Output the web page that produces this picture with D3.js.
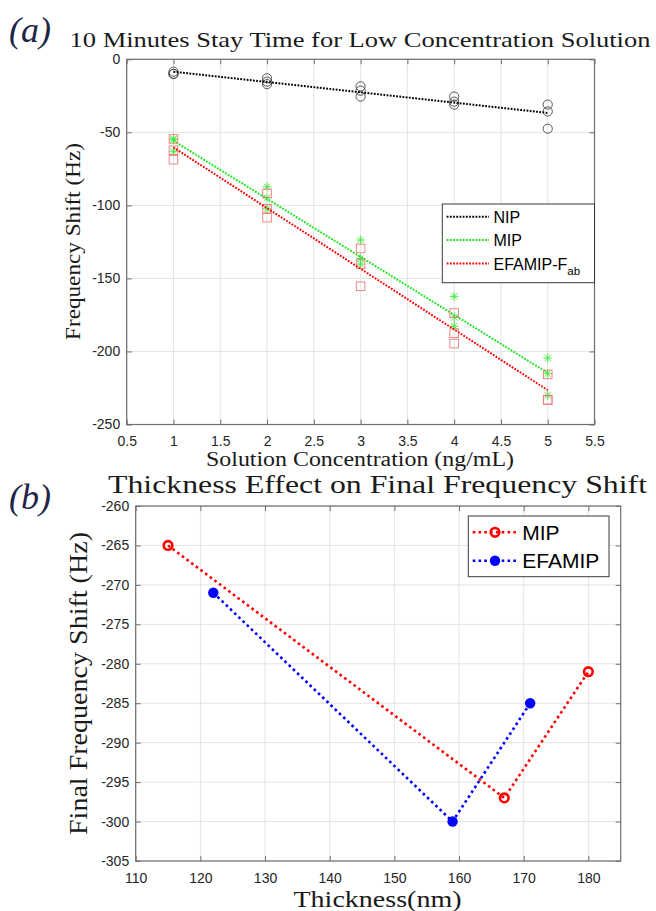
<!DOCTYPE html>
<html>
<head>
<meta charset="utf-8">
<script src="https://cdn.jsdelivr.net/npm/d3@7"></script>
<style>
  body { margin: 0; background: #fff; }
</style>
</head>
<body>
<svg id="fig" width="656" height="911"></svg>
<script>
// panel (a): three repeats per concentration
const concLevels = [1, 2, 3, 4, 5]
const nipShift = [[-8.5, -10, -10], [-13, -15.3, -17], [-18.5, -21.5, -25.5], [-25.5, -29, -31], [-31, -35.7, -47.5]]
const mipShift = [[-54.5, -55, -63], [-87.3, -94.8, -102.3], [-123.7, -136.4, -140.2], [-162.3, -176.6, -182.7], [-204.5, -215.2, -230]]
const efamipShift = [[-54.5, -62.3, -68.7], [-91.8, -102.3, -108.4], [-129.5, -140.2, -155.4], [-173.7, -187.5, -194.6], [-215.7, -233.4, -233]]
const concTicks = [0.5, 1, 1.5, 2, 2.5, 3, 3.5, 4, 4.5, 5, 5.5]
const shiftTicksA = [0, -50, -100, -150, -200, -250]

// panel (b)
const mipThickness = [115, 167, 180]
const mipFinalShift = [-265, -297, -281]
const efamipThickness = [122, 159, 171]
const efamipFinalShift = [-271, -300, -285]
const thicknessTicks = [110, 120, 130, 140, 150, 160, 170, 180]
const finalShiftTicks = [-260, -265, -270, -275, -280, -285, -290, -295, -300, -305]

const serif = '"Liberation Serif", "DejaVu Serif", serif'
const sans = '"Liberation Sans", Arial, sans-serif'
const axisColor = '#6e6e6e'
const gridColor = '#e4e4e4'

const svg = d3.select('#fig')

// MATLAB style '*' marker (plus + cross)
const starType = {
  draw (ctx, size) {
    const r = Math.sqrt(size) / 2
    const k = r * 0.72
    ctx.moveTo(-r, 0); ctx.lineTo(r, 0)
    ctx.moveTo(0, -r); ctx.lineTo(0, r)
    ctx.moveTo(-k, -k); ctx.lineTo(k, k)
    ctx.moveTo(-k, k); ctx.lineTo(k, -k)
  }
}

// least squares line through all repeats
function fitLine (levels, reps) {
  const pts = []
  levels.forEach((c, i) => reps[i].forEach(v => pts.push([c, v])))
  const mx = d3.mean(pts, p => p[0])
  const my = d3.mean(pts, p => p[1])
  const sxy = d3.sum(pts, p => (p[0] - mx) * (p[1] - my))
  const sxx = d3.sum(pts, p => (p[0] - mx) * (p[0] - mx))
  const slope = sxy / sxx
  const x0 = d3.min(levels), x1 = d3.max(levels)
  return [[x0, my + slope * (x0 - mx)], [x1, my + slope * (x1 - mx)]]
}

// grid + box + inward ticks on all four sides
function drawFrame (box, x, y, xTicks, yTicks, fontSize) {
  const g = svg.append('g')
  g.selectAll('.gx').data(xTicks).enter().append('line')
    .attr('x1', d => x(d)).attr('x2', d => x(d))
    .attr('y1', box.top).attr('y2', box.bottom)
    .attr('stroke', gridColor).attr('stroke-width', 1)
  g.selectAll('.gy').data(yTicks).enter().append('line')
    .attr('y1', d => y(d)).attr('y2', d => y(d))
    .attr('x1', box.left).attr('x2', box.right)
    .attr('stroke', gridColor).attr('stroke-width', 1)

  const axes = [
    [d3.axisBottom(x).tickValues(xTicks).tickFormat(String).tickPadding(12), `translate(0,${box.bottom})`],
    [d3.axisTop(x).tickValues(xTicks).tickFormat(''), `translate(0,${box.top})`],
    [d3.axisLeft(y).tickValues(yTicks).tickFormat(String).tickPadding(6.5), `translate(${box.left},0)`],
    [d3.axisRight(y).tickValues(yTicks).tickFormat(''), `translate(${box.right},0)`]
  ]
  axes.forEach(([a, tr]) => {
    const ag = g.append('g').attr('transform', tr)
      .call(a.tickSizeInner(-5).tickSizeOuter(0))
    ag.select('.domain').remove()
    ag.selectAll('line').attr('stroke', axisColor)
    ag.selectAll('text')
      .attr('fill', '#262626')
      .style('font-family', sans)
      .style('font-size', fontSize + 'px')
  })

  g.append('rect')
    .attr('x', box.left).attr('y', box.top)
    .attr('width', box.right - box.left).attr('height', box.bottom - box.top)
    .attr('fill', 'none').attr('stroke', axisColor).attr('stroke-width', 1.2)
}

function serifText (txt, x, y, size, len, rotate) {
  const t = svg.append('text')
    .attr('text-anchor', 'middle')
    .attr('font-family', serif)
    .attr('font-size', size)
    .attr('fill', '#1a1a1a')
    .attr('textLength', len)
    .attr('lengthAdjust', 'spacingAndGlyphs')
    .text(txt)
  if (rotate) t.attr('transform', `translate(${x},${y}) rotate(-90)`)
  else t.attr('x', x).attr('y', y)
}

// ---------------- panel (a) ----------------
const boxA = { left: 126.7, right: 594.5, top: 59.3, bottom: 424.5 }
const xA = d3.scaleLinear().domain([0.5, 5.5]).range([boxA.left, boxA.right])
const yA = d3.scaleLinear().domain([-250, 0]).range([boxA.bottom, boxA.top])

drawFrame(boxA, xA, yA, concTicks, shiftTicksA, 14)

const seriesA = [
  { name: 'NIP', reps: nipShift, color: '#000000', marker: 'circle' },
  { name: 'MIP', reps: mipShift, color: '#19e619', marker: 'star' },
  { name: 'EFAMIP-F', sub: 'ab', reps: efamipShift, color: '#ff0000', marker: 'square' }
]

const lineA = d3.line().x(d => xA(d[0])).y(d => yA(d[1]))

seriesA.forEach(s => {
  const pts = []
  concLevels.forEach((c, i) => s.reps[i].forEach(v => pts.push([c, v])))
  const mg = svg.append('g')
  if (s.marker === 'circle') {
    mg.selectAll('circle').data(pts).enter().append('circle')
      .attr('cx', d => xA(d[0])).attr('cy', d => yA(d[1])).attr('r', 4.6)
      .attr('fill', 'none').attr('stroke', '#444').attr('stroke-width', 0.9)
  } else if (s.marker === 'square') {
    mg.selectAll('rect').data(pts).enter().append('rect')
      .attr('x', d => xA(d[0]) - 4.3).attr('y', d => yA(d[1]) - 4.3)
      .attr('width', 8.6).attr('height', 8.6)
      .attr('fill', 'none').attr('stroke', '#f07a7a').attr('stroke-width', 0.9)
  } else {
    mg.selectAll('path').data(pts).enter().append('path')
      .attr('transform', d => `translate(${xA(d[0])},${yA(d[1])})`)
      .attr('d', d3.symbol().type(starType).size(81))
      .attr('fill', 'none').attr('stroke', '#3ee83e').attr('stroke-width', 0.9)
  }
  svg.append('path')
    .datum(fitLine(concLevels, s.reps))
    .attr('d', lineA)
    .attr('fill', 'none')
    .attr('stroke', s.color)
    .attr('stroke-width', 2)
    .attr('stroke-dasharray', '1.8,1.4')
})

// legend (a)
const legA = svg.append('g')
legA.append('rect')
  .attr('x', 442.3).attr('y', 204).attr('width', boxA.right - 442.3).attr('height', 78.7)
  .attr('fill', '#fff').attr('stroke', '#3a3a3a').attr('stroke-width', 1)
seriesA.forEach((s, i) => {
  const ly = 216.7 + i * 23.4
  legA.append('line')
    .attr('x1', 446.7).attr('x2', 489).attr('y1', ly).attr('y2', ly)
    .attr('stroke', s.color).attr('stroke-width', 2).attr('stroke-dasharray', '1.8,1.4')
  const t = legA.append('text')
    .attr('x', 493.5).attr('y', ly + 6)
    .attr('font-family', sans).attr('font-size', 16).attr('fill', '#000')
    .text(s.name)
  if (s.sub) {
    t.append('tspan').attr('dy', 5).attr('font-size', 11.5).text(s.sub)
  }
})

serifText('10 Minutes Stay Time for Low Concentration Solution', 360, 46.5, 21, 581)
serifText('Solution Concentration (ng/mL)', 360, 466, 20, 308)
serifText('Frequency Shift (Hz)', 80, 241.5, 20, 197, true)

svg.append('text')
  .attr('x', 9).attr('y', 42)
  .attr('font-family', serif).attr('font-style', 'italic').attr('font-size', 36)
  .attr('fill', '#1e2548').text('(a)')

// ---------------- panel (b) ----------------
const boxB = { left: 135.7, right: 620.7, top: 506, bottom: 861 }
const xB = d3.scaleLinear().domain([110, 185]).range([boxB.left, boxB.right])
const yB = d3.scaleLinear().domain([-305, -260]).range([boxB.bottom, boxB.top])

drawFrame(boxB, xB, yB, thicknessTicks, finalShiftTicks, 14)

const seriesB = [
  { name: 'MIP', xs: mipThickness, ys: mipFinalShift, color: '#ff0000', filled: false },
  { name: 'EFAMIP', xs: efamipThickness, ys: efamipFinalShift, color: '#0000ff', filled: true }
]

const lineB = d3.line().x(d => xB(d[0])).y(d => yB(d[1]))

function markerB (g, s, cx, cy) {
  if (s.filled) {
    g.append('circle').attr('cx', cx).attr('cy', cy).attr('r', 5.2).attr('fill', s.color)
  } else {
    g.append('circle').attr('cx', cx).attr('cy', cy).attr('r', 4.3)
      .attr('fill', 'none').attr('stroke', s.color).attr('stroke-width', 2.6)
  }
}

seriesB.forEach(s => {
  const pts = s.xs.map((v, i) => [v, s.ys[i]])
  svg.append('path')
    .datum(pts)
    .attr('d', lineB)
    .attr('fill', 'none')
    .attr('stroke', s.color)
    .attr('stroke-width', 2.6)
    .attr('stroke-dasharray', '2.6,3.2')
  const mg = svg.append('g')
  pts.forEach(p => markerB(mg, s, xB(p[0]), yB(p[1])))
})

// legend (b)
const legB = svg.append('g')
legB.append('rect')
  .attr('x', 468.3).attr('y', 516).attr('width', 140.7).attr('height', 60.7)
  .attr('fill', '#fff').attr('stroke', '#3a3a3a').attr('stroke-width', 1)
seriesB.forEach((s, i) => {
  const ly = 532.3 + i * 28.4
  legB.append('line')
    .attr('x1', 472.7).attr('x2', 516.7).attr('y1', ly).attr('y2', ly)
    .attr('stroke', s.color).attr('stroke-width', 2.6).attr('stroke-dasharray', '2.6,3.2')
  markerB(legB, s, 495, ly)
  legB.append('text')
    .attr('x', 522.3).attr('y', ly + 7.6)
    .attr('font-family', sans).attr('font-size', 21).attr('fill', '#000')
    .text(s.name)
})

serifText('Thickness Effect on Final Frequency Shift', 377.5, 493, 26, 539)
serifText('Thickness(nm)', 377.5, 907, 23, 168)
serifText('Final Frequency Shift (Hz)', 87, 683.5, 25, 303, true)

svg.append('text')
  .attr('x', 9).attr('y', 509)
  .attr('font-family', serif).attr('font-style', 'italic').attr('font-size', 36)
  .attr('fill', '#1e2548').text('(b)')
</script>
</body>
</html>
